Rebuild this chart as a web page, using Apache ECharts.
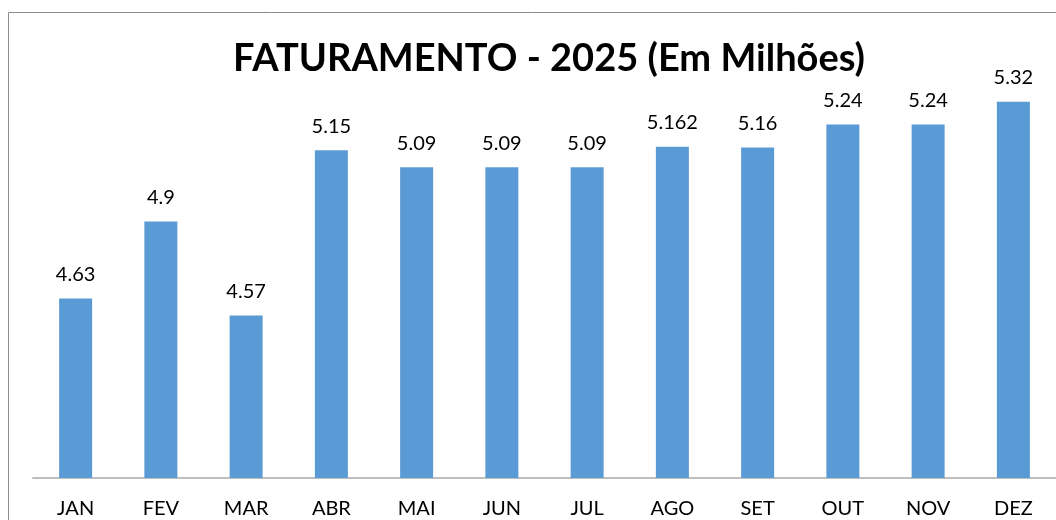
<!DOCTYPE html>
<html>
<head>
<meta charset="utf-8">
<script src="https://cdn.jsdelivr.net/npm/echarts@6/dist/echarts.min.js"></script>
<style>
  html, body { margin: 0; padding: 0; background: #fff; }
  #main { width: 1056px; height: 520px; }
</style>
</head>
<body>
<div id="main"></div>
<script>
var meses = ['JAN', 'FEV', 'MAR', 'ABR', 'MAI', 'JUN', 'JUL', 'AGO', 'SET', 'OUT', 'NOV', 'DEZ'];
var faturamento = [4.63, 4.9, 4.57, 5.15, 5.09, 5.09, 5.09, 5.162, 5.16, 5.24, 5.24, 5.32];
var eixoMin = 4;
var eixoMax = 5.4;

var myChart = echarts.init(document.getElementById('main'));

var fonte = 'Lato, "Open Sans", sans-serif';

var option = {
    animation: false,
    backgroundColor: '#fff',
    title: {
        text: 'FATURAMENTO - 2025 (Em Milhões)',
        left: 228,
        top: 35,
        textStyle: {
            fontFamily: fonte,
            fontSize: 38,
            fontWeight: 'bold',
            color: '#000'
        }
    },
    graphic: [{
        type: 'rect',
        shape: { x: 8.5, y: 12.5, width: 1200, height: 700 },
        style: { fill: 'none', stroke: '#8c8c8c', lineWidth: 1 },
        silent: true
    }],
    grid: {
        left: 33,
        right: 0,
        top: 79,
        bottom: 42,
        containLabel: false
    },
    xAxis: {
        type: 'category',
        data: meses,
        axisLine: { lineStyle: { color: '#bfbfbf', width: 2 } },
        axisTick: { show: false },
        axisLabel: {
            margin: 21,
            fontFamily: fonte,
            fontSize: 20,
            color: '#000'
        }
    },
    yAxis: {
        type: 'value',
        min: eixoMin,
        max: eixoMax,
        show: false,
        splitLine: { show: false }
    },
    series: [{
        type: 'bar',
        data: faturamento,
        barWidth: 33,
        itemStyle: { color: '#5b9bd5' },
        label: {
            show: true,
            position: 'top',
            distance: 14,
            fontFamily: fonte,
            fontSize: 20,
            color: '#000'
        }
    }]
};

myChart.setOption(option);
</script>
</body>
</html>
